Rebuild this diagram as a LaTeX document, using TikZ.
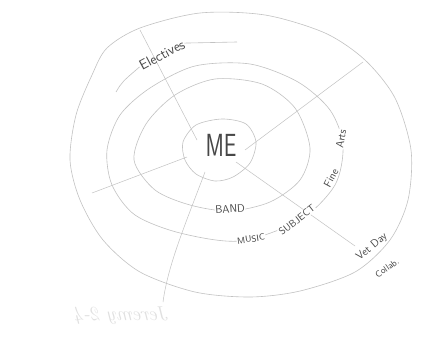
\documentclass[tikz,border=0pt]{standalone}
\usetikzlibrary{positioning}
\definecolor{pencil}{gray}{0.76}
\definecolor{lead}{gray}{0.28}
\definecolor{ghost}{gray}{0.88}

\begin{document}
\begin{tikzpicture}
    [
        x=1pt, y=-1pt,
        ring/.style={draw=pencil, line width=0.6pt},
        spoke/.style={draw=pencil, line width=0.5pt},
        hand/.style={text=lead, font=\sffamily, inner sep=0.5pt},
        onring/.style={hand, fill=white}
    ]
        \useasboundingbox [fill=white] (0,0) rectangle (425,339);
        % =========================================================================
        % RINGS
        % =========================================================================
        % --- ME ---
        \draw [ring] plot [smooth cycle] coordinates {(183,142) (196,125) (222,119) (246,124) (256,142) (250,163) (233,177) (215,181) (196,174) (185,160)};
        % --- BAND ---
        \draw [ring] plot [smooth cycle] coordinates {(134,160) (146,124) (175,95) (215,79) (262,84) (295,108) (310,148) (300,180) (270,202) (230,211) (190,205) (155,190)};
        % --- MUSIC - SUBJECT - Fine Arts ---
        \draw [ring] plot [smooth cycle] coordinates {(107,150) (120,115) (150,88) (195,66) (250,64) (298,82) (330,110) (343,145) (335,185) (300,220) (240,241) (180,233) (135,215) (112,185)};
        % --- outer ---
        \draw [ring] plot [smooth cycle] coordinates {(107,48) (140,28) (200,13) (265,15) (325,33) (365,60) (395,98) (411,150) (408,200) (390,240) (355,272) (300,291) (250,297) (195,292) (140,272) (103,240) (80,200) (70,160) (76,115) (92,75)};

        % =========================================================================
        % SPOKES
        % =========================================================================
        \coordinate (s1in) at (197,140);  \coordinate (s1out) at (140,30);
        \coordinate (s2in) at (245,150);  \coordinate (s2out) at (363,62);
        \coordinate (s3in) at (236,162);  \coordinate (s3out) at (355,246);
        \coordinate (s4in) at (205,172);  \coordinate (s4out) at (163,302);
        \coordinate (s5in) at (187,157);  \coordinate (s5out) at (92,193);
        \draw [spoke] (s1in) -- (s1out);
        \draw [spoke] (s2in) -- (s2out);
        \draw [spoke] (s3in) -- (s3out);
        \draw [spoke] (s4in) .. controls (185,225) and (168,265) .. (s4out);
        \draw [spoke] (s5in) -- (s5out);

        % =========================================================================
        % NODES
        % =========================================================================
        \node [hand, font=\sffamily\fontsize{32}{32}\selectfont, xscale=0.7] (me) at (221,145) {ME};
        % --- Electives ---
        \node [hand, rotate=28, font=\sffamily\fontsize{14}{14}\selectfont] (electives) at (162,55) {Electives};
        \coordinate (elecstart) at (116,92);
        \coordinate (elecend) at (237,42);
        \draw [ring] (elecstart) .. controls (122,82) .. (electives.west);
        \draw [ring] (electives.east) -- (elecend);
        % --- rings labels ---
        \node [onring, font=\sffamily\fontsize{11}{11}\selectfont, rotate=4] (band) at (230,209) {BAND};
        \node [onring, font=\sffamily\fontsize{9}{9}\selectfont, rotate=8] (music) at (251,239) {MUSIC};
        \node [onring, font=\sffamily\fontsize{10}{10}\selectfont, rotate=38] (subject) at (297,220) {SUBJECT};
        \node [onring, font=\sffamily\fontsize{11}{11}\selectfont, rotate=62] (fine) at (331,178) {Fine};
        \node [onring, font=\sffamily\fontsize{11}{11}\selectfont, rotate=80] (arts) at (341,139) {Arts};
        % --- outer labels ---
        \node [onring, font=\sffamily\fontsize{11}{11}\selectfont, rotate=40] (vetday) at (372,247) {Vet Day};
        \node [hand, font=\sffamily\fontsize{9}{9}\selectfont, rotate=35] (collab) at (387,268) {Collab.};
        % --- signature seen through the sheet ---
        \node [text=ghost, xscale=-1, font=\itshape\fontsize{20}{20}\selectfont] (sig) at (122,316) {Jeremy 2-4};
    \end{tikzpicture}
\end{document}
